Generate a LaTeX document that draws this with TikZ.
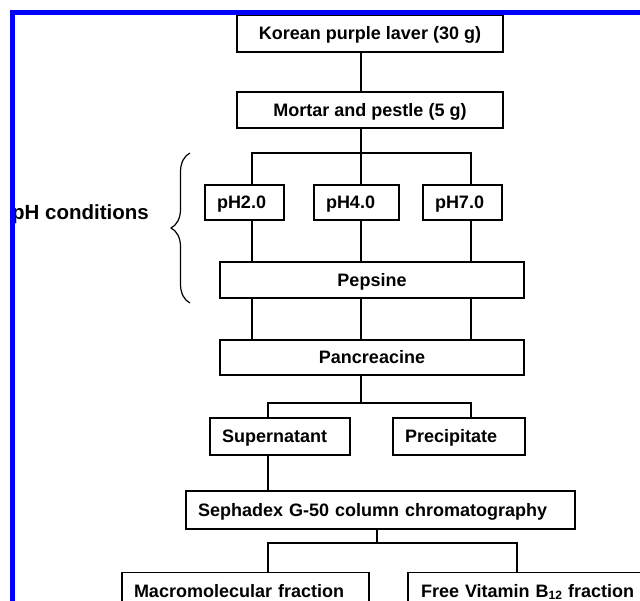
\documentclass[tikz,border=0pt]{standalone}
\usepackage{fontspec}
\setmainfont{Liberation Sans}
\usepackage{tikz}
\usetikzlibrary{
calc,
decorations.pathreplacing,
}
\tikzset{
	box/.style={draw, line width=1.5pt, inner sep=0pt, font=\bfseries\fontsize{18}{20}\selectfont, text height=12.9pt, text depth=0pt},
	lbox/.style={box, inner xsep=12pt, align=left},
	link/.style={line width=1.5pt},
}
\newcommand{\lowidx}[1]{\raisebox{-2pt}{\fontsize{12}{12}\selectfont #1}}

\begin{document}
\begin{tikzpicture}[x=1pt, y=-1pt]
			\useasboundingbox (0,0) rectangle (640,601);
			\clip (0,0) rectangle (640,601);

			% Define coordinates
			\coordinate (colA) at (252,0);
			\coordinate (colB) at (361,0);
			\coordinate (colC) at (471,0);
			\coordinate (colD) at (268,0);
			\coordinate (colE) at (517,0);
			\coordinate (split1) at (361,153);
			\coordinate (split2) at (361,403);
			\coordinate (split3) at (377,543);
			\coordinate (brtop) at (190,153);
			\coordinate (brbot) at (190,303);

			% Boxes
			\node[box, minimum width=266pt, minimum height=37pt] (laver) at (370,33.5) {Korean purple laver (30 g)};
			\node[box, minimum width=266pt, minimum height=36pt] (mortar) at (370,110) {Mortar and pestle (5 g)};
			\node[lbox, text width=55pt, minimum height=35pt] (ph2) at (244.5,202.5) {pH2.0};
			\node[lbox, text width=61pt, minimum height=35pt] (ph4) at (356.5,202.5) {pH4.0};
			\node[lbox, text width=55pt, minimum height=35pt] (ph7) at (462.5,202.5) {pH7.0};
			\node[box, minimum width=304pt, minimum height=36pt] (pepsine) at (372,280) {Pepsine};
			\node[box, minimum width=304pt, minimum height=35pt] (pancrea) at (372,357.5) {Pancreacine};
			\node[lbox, text width=116pt, minimum height=37pt] (super) at (280,436.5) {Supernatant};
			\node[lbox, text width=108pt, minimum height=37pt] (precip) at (459,436.5) {Precipitate};
			\node[lbox, text width=365pt, minimum height=38pt] (sephadex) at (380.5,510) {Sephadex G-50 column chromatography};
			\node[lbox, text width=223pt, minimum height=37pt] (macro) at (245.5,591) {Macromolecular fraction};
			\node[lbox, inner xsep=13pt, text width=234pt, minimum height=37pt] (free) at (538,591) {Free Vitamin B\lowidx{12} fraction};

			% Label and brace for the pH steps
			\node[font=\bfseries\fontsize{20.5}{22}\selectfont, anchor=base east, inner sep=0pt] (phcond) at (149,220) {pH conditions};
			\draw[decoration={brace, amplitude=19pt}, decorate, line width=1.2pt] (brbot) -- (brtop);

			% Links
			\draw[link] (laver.south -| colB) -- (mortar.north -| colB);
			\draw[link] (mortar.south -| colB) -- (ph4.north -| colB);
			\draw[link] (ph2.north -| colA) |- (split1) -| (ph7.north -| colC);
			\foreach \ph/\col in {ph2/colA, ph4/colB, ph7/colC}{
				\draw[link] (\ph.south -| \col) -- (pepsine.north -| \col);
				\draw[link] (pepsine.south -| \col) -- (pancrea.north -| \col);
			}
			\draw[link] (pancrea.south -| split2) -- (split2);
			\draw[link] (super.north -| colD) |- (split2) -| (precip.north -| colC);
			\draw[link] (super.south -| colD) -- (sephadex.north -| colD);
			\draw[link] (sephadex.south -| split3) -- (split3);
			\draw[link] (macro.north -| colD) |- (split3) -| (free.north -| colE);

			% Frame
			\draw[blue, line width=5pt] (12.5,660) |- (660,12.5);

		\end{tikzpicture}
\end{document}
